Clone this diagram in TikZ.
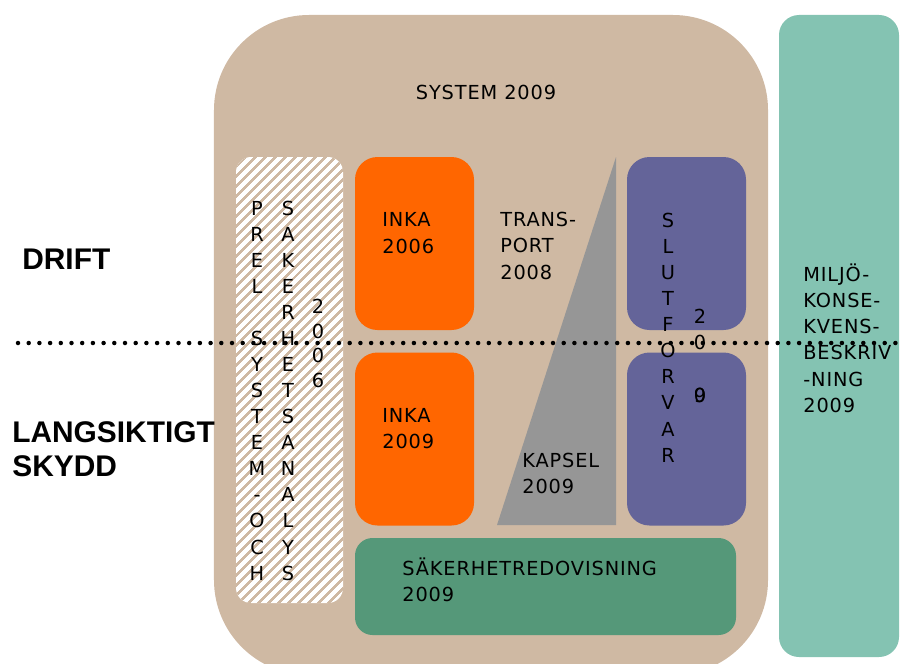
\documentclass[tikz,border=0pt]{standalone}
\usepackage{fontspec}
\setmainfont{DejaVu Sans}[LetterSpace=4.5]
\newfontfamily\headfont{Liberation Sans}
\usetikzlibrary{patterns.meta}

\definecolor{sandbg}{RGB}{207,185,163}
\definecolor{inkaorange}{RGB}{255,102,0}
\definecolor{slutpurple}{RGB}{100,100,153}
\definecolor{kapselgray}{RGB}{150,150,150}
\definecolor{sargreen}{RGB}{85,152,121}
\definecolor{miljoteal}{RGB}{132,195,178}

\begin{document}
\begin{tikzpicture}[x=0.2mm, y=-0.2mm,
    box/.style={rectangle, draw=none, inner sep=0pt, rounded corners=4.5mm},
    txt/.style={inner sep=0pt, anchor=base west, align=left,
      font=\fontsize{11}{14.8}\selectfont},
    vtxt/.style={inner sep=0pt, anchor=base, align=center,
      font=\fontsize{11}{14.8}\selectfont},
    head/.style={inner sep=0pt, anchor=base west, align=left,
      font=\headfont\bfseries\fontsize{17}{18.8}\selectfont},
    sepline/.style={line width=0.9mm, line cap=round, dash pattern=on 0pt off 2.14mm}]
  \useasboundingbox (0,0) rectangle (902,663);
  % ---- frames ----
  \node[box, fill=sandbg, rounded corners=19mm, minimum width=110.8mm, minimum height=132mm] (system) at (491,345) {};
  \node[box, fill=miljoteal, rounded corners=4mm, minimum width=24mm, minimum height=128.4mm] (miljo) at (839,336) {};
  \node[box, rounded corners=3mm, minimum width=21.4mm, minimum height=89.2mm,
    preaction={fill=white}, pattern={Lines[angle=45, distance=4pt, line width=1.5pt]},
    pattern color=sandbg] (prel) at (289.5,380) {};
  % ---- inner boxes ----
  \node[box, fill=inkaorange, minimum width=23.8mm, minimum height=34.6mm] (inka1) at (414.5,243.5) {};
  \node[box, fill=inkaorange, minimum width=23.8mm, minimum height=34.6mm] (inka2) at (414.5,439) {};
  \node[box, fill=slutpurple, minimum width=23.8mm, minimum height=34.6mm] (slut1) at (686.5,243.5) {};
  \node[box, fill=slutpurple, minimum width=23.8mm, minimum height=34.6mm] (slut2) at (686.5,439) {};
  \node[box, fill=sargreen, rounded corners=3.5mm, minimum width=76.2mm, minimum height=19.4mm] (sar) at (545.5,586.5) {};
  \coordinate (kapA) at (497,525);
  \coordinate (kapB) at (616,157);
  \coordinate (kapC) at (616,525);
  \fill[kapselgray] (kapA) -- (kapB) -- (kapC) -- cycle;
  % ---- texts (base = last line) ----
  \node[vtxt] (systemlab) at (486,99) {SYSTEM 2009};
  \node[txt] (inka1lab) at (382,253) {INKA\\2006};
  \node[txt] (inka2lab) at (382,448) {INKA\\2009};
  \node[txt] (translab) at (500,279) {TRANS-\\PORT\\2008};
  \node[txt] (kapsellab) at (522,493) {KAPSEL\\2009};
  \node[txt] (sarlab) at (402,601) {SÄKERHETREDOVISNING\\2009};
  \node[txt] (miljolab) at (803,412) {MILJÖ-\\KONSE-\\KVENS-\\BESKRIV\\-NING\\2009};
  \node[vtxt] (prelA) at (257,580) {P\\R\\E\\L\\~\\S\\Y\\S\\T\\E\\M\\-\\O\\C\\H};
  \node[vtxt] (prelB) at (288,580) {S\\A\\K\\E\\R\\H\\E\\T\\S\\A\\N\\A\\L\\Y\\S};
  \node[vtxt, font=\fontsize{11}{13.9}\selectfont] (prelC) at (318,387) {2\\0\\0\\6};
  \node[vtxt] (slutA) at (668,462) {S\\L\\U\\T\\F\\O\\R\\V\\A\\R};
  \node[vtxt] (slutB) at (700,402) {2\\0\\~\\\rlap{0}9};
  \node[head] (drift) at (22,269) {DRIFT};
  \node[head] (skydd) at (12,476) {LANGSIKTIGT\\SKYDD};
  % ---- separator ----
  \coordinate (sepL) at (18,343);
  \coordinate (sepR) at (902,343);
  \draw[sepline] (sepL) -- (sepR);
\end{tikzpicture}
\end{document}
